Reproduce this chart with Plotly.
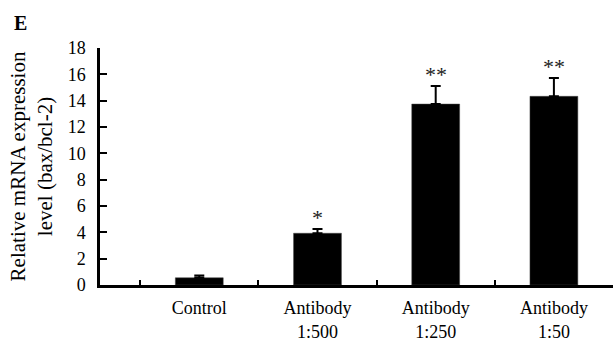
import plotly.graph_objects as go

categories = ["Control", "Antibody<br>1:500", "Antibody<br>1:250", "Antibody<br>1:50"]
values = [0.55, 3.93, 13.74, 14.33]
errors = [0.17, 0.32, 1.37, 1.39]
stars = ["", "*", "**", "**"]
y_ticks = [0, 2, 4, 6, 8, 10, 12, 14, 16, 18]

FONT = "Liberation Serif, Times New Roman, serif"

fig = go.Figure()
fig.add_trace(go.Bar(
    x=categories, y=values, width=0.405,
    marker=dict(color="black", line=dict(color="#444", width=0.5)),
    error_y=dict(type="data", symmetric=False, array=errors,
                 arrayminus=[0]*len(errors), color="black", thickness=2, width=5),
))

for c, v, e, s in zip(categories, values, errors, stars):
    if s:
        fig.add_annotation(x=c, y=v + e, text=s, showarrow=False, yanchor="bottom",
                           yshift=-3, font=dict(family=FONT, size=22, color="#222"))

fig.add_annotation(x=-0.172, y=1.16, xref="paper", yref="paper", text="<b>E</b>",
                   showarrow=False, xanchor="left", yanchor="top",
                   font=dict(family=FONT, size=20, color="black"))

fig.update_layout(
    width=613, height=343,
    margin=dict(l=100, r=0, t=48, b=58),
    plot_bgcolor="white", paper_bgcolor="white",
    showlegend=False,
    font=dict(family=FONT, color="black"),
    xaxis=dict(
        type="category", range=[-0.84, 3.5],
        showline=True, linecolor="black", linewidth=2.5,
        ticks="inside", tickson="boundaries", ticklen=5, tickwidth=2, tickcolor="black",
        ticklabelstandoff=5,
        tickfont=dict(family=FONT, size=18, color="black"),
        showgrid=False, zeroline=False, automargin=False,
    ),
    yaxis=dict(
        range=[0, 18], tickvals=y_ticks,
        showline=True, linecolor="black", linewidth=2.5,
        ticks="inside", ticklen=7, tickwidth=2, tickcolor="black",
        ticklabelstandoff=8,
        tickfont=dict(family=FONT, size=18, color="black"),
        showgrid=False, zeroline=False, automargin=False,
        title=dict(text="Relative mRNA expression<br>level (bax/bcl-2)",
                   font=dict(family=FONT, size=21, color="black"), standoff=10),
    ),
)

fig.write_html("out.html", config={"displayModeBar": False},
               post_script="document.body.style.margin='0';")
